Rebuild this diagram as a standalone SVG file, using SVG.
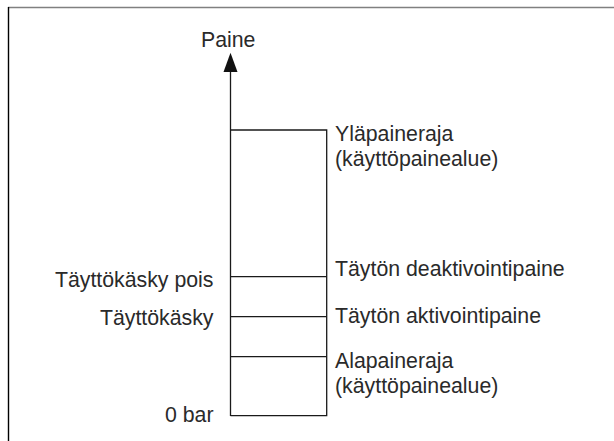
<svg xmlns="http://www.w3.org/2000/svg" width="614" height="441" viewBox="0 0 614 441">
<style>
.ln{stroke:#1a1a1a;stroke-width:1.3;fill:none}
.t{font-family:"Liberation Sans",Arial,sans-serif;font-size:21.3px;fill:#2a2a2a}
.r{text-anchor:end}
</style>
<rect width="614" height="441" fill="#fff"/>
<g id="frame">
<line x1="8" y1="7.5" x2="614" y2="7.5" stroke="#808080" stroke-width="1.6"/>
<line x1="8.5" y1="7" x2="8.5" y2="441" stroke="#000" stroke-width="1.4"/>
</g>
<g id="connectors">
<line class="ln" x1="230.5" y1="70" x2="230.5" y2="416"/>
<polygon points="230.5,52.7 223.5,72 237.5,72" fill="#111"/>
<polyline class="ln" points="230.5,130 326.7,130 326.7,415.7 230.5,415.7"/>
<line class="ln" x1="230.5" y1="276.7" x2="326.7" y2="276.7"/>
<line class="ln" x1="230.5" y1="316.7" x2="326.7" y2="316.7"/>
<line class="ln" x1="230.5" y1="356.7" x2="326.7" y2="356.7"/>
</g>
<g id="axis-label"><text class="t" x="201" y="46.7">Paine</text></g>
<g id="upper-limit"><text class="t" x="335" y="141">Yläpaineraja</text><text class="t" x="335" y="165.5">(käyttöpainealue)</text></g>
<g id="deactivation"><text class="t" x="335" y="276">Täytön deaktivointipaine</text></g>
<g id="activation"><text class="t" x="335" y="323">Täytön aktivointipaine</text></g>
<g id="lower-limit"><text class="t" x="335" y="367.5">Alapaineraja</text><text class="t" x="335" y="392.5">(käyttöpainealue)</text></g>
<g id="fill-off"><text class="t r" x="213.5" y="286.7">Täyttökäsky pois</text></g>
<g id="fill-on"><text class="t r" x="213.5" y="325">Täyttökäsky</text></g>
<g id="zero"><text class="t r" x="213.5" y="421.7">0 bar</text></g>
</svg>
